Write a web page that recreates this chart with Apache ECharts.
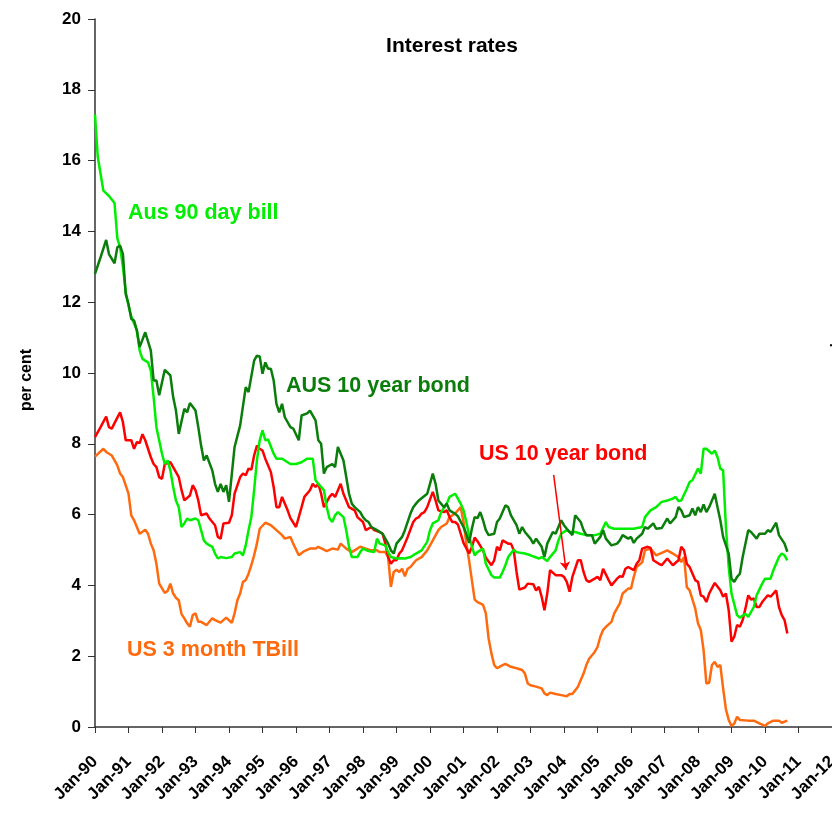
<!DOCTYPE html>
<html>
<head>
<meta charset="utf-8">
<script src="https://cdn.jsdelivr.net/npm/echarts@6/dist/echarts.min.js"></script>
<style>
  html, body { margin: 0; padding: 0; background: #fff; }
  #chart { width: 832px; height: 813px; }
</style>
</head>
<body>
<div id="chart"></div>
<script>
// x values are months counted from Jan-90
var tickLabels = ['Jan-90','Jan-91','Jan-92','Jan-93','Jan-94','Jan-95','Jan-96','Jan-97','Jan-98','Jan-99','Jan-00',
                  'Jan-01','Jan-02','Jan-03','Jan-04','Jan-05','Jan-06','Jan-07','Jan-08','Jan-09','Jan-10','Jan-11','Jan-12'];

// Aus 90 day bill
var aus90 = [[0,17.3],[1,16.1],[3,15.15],[5,15.0],[7,14.8],[8,13.8],[9,13.55],[10,13.0],[11,12.3],[12,11.9],[13,11.6],[15,11.2],[16,10.63],[17,10.4],[19,10.3],[20,10.07],[21,9.32],[22,8.47],[24,7.72],[25,7.43],[26,7.53],[27,7.25],[28,6.78],[29,6.4],[30,6.21],[31,5.65],[32,5.75],[33,5.89],[34,5.84],[36,5.89],[37,5.84],[38,5.56],[39,5.27],[40,5.18],[42,5.09],[43,4.9],[44,4.76],[45,4.8],[47,4.77],[49,4.8],[50,4.9],[52,4.94],[53,4.85],[54,5.13],[55,5.56],[56,5.93],[57,6.69],[58,7.53],[59,8.1],[60,8.38],[61,8.1],[62,8.12],[64,7.72],[65,7.58],[67,7.58],[68,7.53],[70,7.43],[72,7.43],[74,7.48],[76,7.58],[77,7.58],[78,7.58],[79,6.97],[80,6.87],[82,6.69],[83,6.21],[84,5.89],[85,5.79],[86,5.98],[87,6.07],[89,5.93],[90,5.56],[91,5.09],[92,4.8],[94,4.8],[95,4.94],[96,5.04],[98,4.97],[100,4.94],[101,5.32],[102,5.18],[104,5.13],[105,4.94],[106,4.8],[108,4.76],[110,4.77],[111,4.76],[113,4.8],[115,4.9],[117,4.99],[119,5.23],[120,5.56],[121,5.75],[123,5.84],[124,6.07],[126,6.31],[127,6.5],[129,6.59],[130,6.45],[131,6.31],[132,6.12],[133,5.8],[134,5.4],[135,5.1],[136,4.85],[137,4.94],[139,5.04],[140,4.61],[142,4.29],[143,4.22],[145,4.22],[146,4.38],[147,4.57],[148,4.8],[150,5.01],[151,4.94],[154,4.9],[156,4.85],[159,4.76],[160,4.8],[162,4.69],[163,4.8],[165,4.99],[166,5.27],[167,5.46],[169,5.56],[170,5.51],[172,5.51],[174,5.46],[176,5.42],[179,5.42],[181,5.46],[183,5.79],[184,5.65],[186,5.6],[188,5.6],[191,5.6],[193,5.6],[196,5.65],[197,5.93],[199,6.12],[201,6.21],[203,6.36],[205,6.4],[207,6.45],[208,6.5],[209,6.38],[210,6.4],[212,6.73],[213,6.92],[214,6.97],[216,7.3],[217,7.16],[218,7.86],[219,7.86],[221,7.72],[222,7.81],[223,7.62],[224,7.3],[225,7.25],[226,5.65],[227,4.52],[228,3.77],[230,3.16],[231,3.09],[233,3.2],[234,3.11],[236,3.39],[237,3.72],[239,4.05],[240,4.19],[242,4.19],[243,4.43],[245,4.8],[246,4.9],[247,4.85],[248,4.71]];

// AUS 10 year bond
var aus10 = [[0,12.8],[2,13.27],[4,13.76],[5,13.36],[7,13.1],[8,13.55],[9,13.6],[10,13.36],[11,12.23],[12,11.95],[13,11.53],[14,11.48],[15,11.2],[16,10.73],[18,11.15],[20,10.63],[21,9.79],[22,9.79],[23,9.37],[25,10.09],[27,9.93],[28,9.32],[29,8.94],[30,8.28],[32,8.99],[33,8.89],[34,9.15],[36,8.94],[37,8.47],[38,7.95],[39,7.53],[40,7.67],[42,7.25],[43,6.87],[44,6.64],[45,6.87],[46,6.64],[47,6.83],[48,6.36],[50,7.91],[52,8.52],[54,9.6],[55,9.46],[57,10.35],[58,10.49],[59,10.47],[60,9.98],[61,10.3],[62,10.12],[63,10.12],[64,9.79],[65,9.13],[66,8.89],[67,9.13],[68,8.75],[70,8.47],[71,8.43],[73,8.1],[74,8.8],[76,8.86],[77,8.94],[79,8.66],[80,8.1],[81,8.0],[82,7.16],[83,7.34],[85,7.43],[86,7.34],[87,7.91],[89,7.53],[90,7.06],[91,6.59],[92,6.31],[93,6.21],[95,6.07],[96,5.93],[97,5.84],[98,5.79],[99,5.65],[101,5.56],[103,5.46],[105,5.18],[106,4.99],[107,4.9],[108,5.18],[110,5.37],[111,5.56],[113,6.03],[114,6.21],[115,6.31],[116,6.4],[119,6.59],[120,6.87],[121,7.16],[122,6.87],[123,6.4],[125,6.21],[126,6.31],[127,6.12],[128,6.07],[129,6.03],[130,5.95],[132,5.65],[133,5.45],[134,5.2],[135,5.6],[136,5.93],[137,5.9],[138,6.07],[139,5.84],[140,5.56],[141,5.42],[143,5.46],[144,5.79],[145,5.89],[147,6.26],[148,6.21],[149,5.98],[151,5.7],[152,5.46],[153,5.65],[154,5.51],[156,5.32],[157,5.18],[158,5.32],[160,5.09],[161,4.8],[162,5.18],[164,5.51],[165,5.46],[167,5.84],[168,5.7],[169,5.6],[171,5.42],[172,5.98],[174,5.79],[175,5.56],[176,5.42],[178,5.42],[179,5.18],[181,5.37],[182,5.56],[183,5.32],[185,5.13],[187,5.18],[188,5.27],[189,5.42],[191,5.32],[192,5.37],[193,5.2],[194,5.32],[196,5.46],[197,5.65],[198,5.6],[200,5.75],[201,5.6],[203,5.62],[205,5.89],[206,5.75],[208,5.93],[209,6.21],[210,6.12],[211,5.93],[213,5.98],[214,6.17],[215,5.98],[216,6.21],[217,6.07],[218,6.29],[219,6.07],[220,6.21],[222,6.59],[223,6.21],[224,5.84],[225,5.37],[227,4.9],[228,4.19],[229,4.1],[230,4.24],[231,4.33],[232,4.8],[234,5.56],[235,5.51],[237,5.32],[238,5.46],[240,5.46],[241,5.56],[242,5.51],[244,5.77],[245,5.42],[247,5.18],[248,4.95]];

// US 10 year bond
var us10 = [[0,8.19],[2,8.47],[4,8.77],[5,8.47],[6,8.43],[8,8.74],[9,8.89],[10,8.61],[11,8.1],[13,8.1],[14,7.86],[15,8.05],[16,8.02],[17,8.27],[18,8.1],[20,7.62],[21,7.43],[22,7.34],[23,7.06],[24,7.01],[25,7.43],[27,7.48],[28,7.34],[30,7.06],[31,6.69],[32,6.4],[34,6.54],[35,6.83],[36,6.69],[37,6.4],[38,5.98],[40,6.03],[41,5.89],[43,5.7],[44,5.37],[45,5.32],[46,5.75],[48,5.77],[49,5.98],[50,6.59],[52,7.06],[53,7.16],[54,7.11],[55,7.3],[56,7.27],[57,7.67],[58,7.95],[59,7.86],[60,7.81],[61,7.58],[63,7.2],[64,6.78],[65,6.21],[66,6.21],[67,6.5],[69,6.12],[70,5.9],[72,5.65],[73,5.93],[74,6.21],[75,6.5],[77,6.69],[78,6.87],[79,6.78],[80,6.87],[81,6.59],[82,6.21],[84,6.5],[85,6.59],[86,6.5],[88,6.87],[89,6.59],[90,6.4],[91,6.21],[93,6.12],[94,5.93],[96,5.79],[97,5.56],[99,5.65],[100,5.56],[102,5.51],[103,5.46],[104,5.18],[105,4.8],[106,4.61],[107,4.71],[108,4.71],[109,4.9],[110,4.99],[111,5.18],[112,5.37],[114,5.79],[115,5.89],[116,5.93],[117,6.03],[118,6.07],[119,6.21],[121,6.64],[122,6.4],[123,6.12],[125,6.07],[126,6.12],[127,5.93],[128,5.79],[129,5.79],[130,5.72],[131,5.46],[132,5.2],[134,4.9],[135,5.08],[136,5.35],[137,5.25],[139,4.99],[140,4.78],[142,4.57],[143,4.71],[144,5.09],[145,4.99],[146,5.27],[148,5.18],[149,5.18],[150,4.99],[151,4.38],[152,3.88],[154,3.94],[155,4.05],[157,4.03],[158,3.86],[159,3.96],[160,3.68],[161,3.3],[162,3.77],[163,4.43],[165,4.29],[167,4.29],[168,4.24],[169,4.1],[170,3.82],[171,4.24],[173,4.71],[174,4.71],[175,4.38],[176,4.15],[177,4.1],[179,4.19],[180,4.24],[181,4.15],[182,4.47],[184,4.15],[185,4.0],[187,4.19],[188,4.26],[189,4.24],[190,4.47],[191,4.52],[193,4.43],[194,4.61],[195,4.71],[196,5.04],[198,5.09],[199,5.06],[200,4.71],[202,4.61],[203,4.57],[205,4.76],[207,4.57],[209,4.71],[210,5.09],[211,4.99],[212,4.61],[213,4.52],[215,4.15],[216,4.1],[217,3.72],[218,3.68],[219,3.53],[220,3.77],[222,4.07],[224,3.86],[225,3.68],[226,3.77],[227,3.3],[228,2.41],[229,2.55],[230,2.88],[231,2.83],[232,3.02],[233,3.35],[234,3.72],[235,3.6],[236,3.63],[237,3.39],[238,3.39],[239,3.53],[241,3.72],[242,3.68],[244,3.86],[245,3.39],[246,3.16],[247,3.02],[248,2.64]];

// US 3 month TBill
var us3m = [[0,7.64],[3,7.86],[4,7.77],[6,7.67],[8,7.39],[9,7.16],[10,7.06],[12,6.59],[13,5.98],[14,5.84],[15,5.65],[16,5.46],[18,5.57],[19,5.46],[20,5.18],[21,4.99],[22,4.61],[23,4.05],[25,3.79],[26,3.84],[27,4.05],[28,3.77],[29,3.65],[30,3.58],[31,3.19],[32,3.07],[33,2.93],[34,2.83],[35,3.16],[36,3.21],[37,2.97],[38,2.97],[40,2.88],[42,3.07],[43,3.02],[45,2.95],[46,3.02],[47,3.09],[49,2.94],[50,3.21],[51,3.58],[52,3.77],[53,4.1],[54,4.15],[55,4.33],[56,4.57],[57,4.85],[58,5.18],[59,5.6],[61,5.77],[63,5.7],[65,5.56],[67,5.42],[68,5.32],[70,5.37],[71,5.18],[73,4.85],[75,4.97],[77,5.04],[79,5.04],[80,5.09],[82,5.01],[83,4.97],[85,5.04],[87,5.01],[88,5.18],[90,5.04],[92,4.94],[93,4.99],[95,5.09],[97,5.04],[99,4.99],[101,4.99],[102,4.94],[104,4.94],[105,4.8],[106,3.96],[107,4.38],[108,4.44],[109,4.38],[110,4.47],[111,4.26],[112,4.47],[113,4.52],[115,4.71],[117,4.8],[119,4.99],[121,5.27],[123,5.56],[124,5.65],[126,5.75],[127,5.93],[129,6.03],[130,6.12],[131,6.21],[132,5.8],[133,5.2],[134,4.7],[135,4.15],[136,3.6],[137,3.53],[138,3.49],[139,3.45],[140,3.21],[141,2.5],[142,2.08],[143,1.75],[144,1.66],[146,1.75],[147,1.78],[149,1.7],[151,1.66],[153,1.61],[154,1.51],[155,1.23],[156,1.18],[158,1.14],[160,1.09],[161,0.95],[162,0.9],[163,0.97],[165,0.93],[167,0.9],[169,0.87],[170,0.93],[171,0.93],[173,1.14],[174,1.33],[175,1.51],[176,1.75],[177,1.93],[179,2.12],[180,2.26],[181,2.55],[182,2.74],[183,2.83],[185,2.97],[186,3.21],[187,3.35],[188,3.49],[189,3.77],[191,3.91],[192,3.91],[193,4.24],[194,4.52],[196,4.65],[197,4.99],[199,5.04],[201,4.85],[203,4.92],[205,4.99],[207,4.9],[209,4.8],[210,4.66],[211,4.8],[212,3.95],[213,3.86],[215,3.35],[216,2.93],[217,2.74],[218,2.17],[219,1.23],[220,1.25],[221,1.75],[222,1.84],[223,1.7],[224,1.75],[225,1.09],[226,0.5],[227,0.2],[228,0.03],[229,0.1],[230,0.29],[231,0.2],[234,0.18],[236,0.18],[238,0.1],[240,0.03],[241,0.1],[243,0.18],[245,0.18],[246,0.12],[248,0.18]];

// arrow pointing at the US 10 year bond line: [month, value] start and end
var arrowFrom = [164.3, 7.12];
var arrowTo = [168.7, 4.44];

var FONT = '"Liberation Sans", Arial, sans-serif';
var cGreen = '#00ee00', cDark = '#0a7d0a', cRed = '#ff0000', cOrange = '#ff6a0e';

var myChart = echarts.init(document.getElementById('chart'));

function lineSeries(name, data, color) {
    return {
        name: name,
        type: 'line',
        data: data,
        showSymbol: false,
        symbol: 'none',
        lineStyle: { color: color, width: 2.5 },
        itemStyle: { color: color },
        z: 2
    };
}

var series = [
    lineSeries('US 3 month TBill', us3m, cOrange),
    lineSeries('US 10 year bond', us10, cRed),
    lineSeries('Aus 90 day bill', aus90, cGreen),
    lineSeries('AUS 10 year bond', aus10, cDark)
];
series[1].markLine = {
    silent: true,
    symbol: ['none', 'arrow'],
    symbolSize: 8,
    label: { show: false },
    lineStyle: { color: cRed, width: 1.5, type: 'solid' },
    data: [[{ coord: arrowFrom }, { coord: arrowTo }]]
};

function label(text, x, y, color) {
    return {
        type: 'text', x: x, y: y,
        style: { text: text, fill: color, font: 'bold 21.5px ' + FONT, textVerticalAlign: 'middle' }
    };
}

var option = {
    animation: false,
    backgroundColor: '#fff',
    grid: { left: 95, right: 0, top: 19, bottom: 86, containLabel: false, outerBoundsMode: 'none' },
    xAxis: {
        type: 'value',
        min: 0, max: 264, interval: 12,
        axisLine: { show: true, lineStyle: { color: '#333', width: 1.5 } },
        axisTick: { show: true, length: 6, lineStyle: { color: '#333' } },
        splitLine: { show: false },
        axisLabel: {
            rotate: 45,
            margin: 32,
            color: '#000',
            fontFamily: FONT,
            fontWeight: 'bold',
            fontSize: 17,
            showMaxLabel: true,
            formatter: function (v) { return tickLabels[Math.round(v / 12)]; }
        }
    },
    yAxis: {
        type: 'value',
        min: 0, max: 20, interval: 2,
        axisLine: { show: true, lineStyle: { color: '#333', width: 1.5 } },
        axisTick: { show: true, length: 7, lineStyle: { color: '#333' } },
        splitLine: { show: false },
        axisLabel: { color: '#000', fontFamily: FONT, fontWeight: 'bold', fontSize: 17, margin: 14 }
    },
    graphic: [
        {
            type: 'text', x: 452, y: 46,
            style: { text: 'Interest rates', fill: '#000', font: 'bold 21px ' + FONT, textAlign: 'center', textVerticalAlign: 'middle' }
        },
        label('Aus 90 day bill', 128, 213, cGreen),
        label('AUS 10 year bond', 286, 386, cDark),
        label('US 10 year bond', 479, 454, cRed),
        label('US 3 month TBill', 127, 650, cOrange),
        {
            type: 'text', x: 27, y: 380, rotation: Math.PI / 2,
            style: { text: 'per cent', fill: '#000', font: 'bold 16px ' + FONT, textAlign: 'center', textVerticalAlign: 'middle' }
        },
        {
            type: 'text', x: 829, y: 374, rotation: -Math.PI / 2,
            style: { text: 'per cent', fill: '#000', font: 'bold 16px ' + FONT, textAlign: 'center', textVerticalAlign: 'bottom' }
        }
    ],
    series: series
};

myChart.setOption(option);
</script>
</body>
</html>
